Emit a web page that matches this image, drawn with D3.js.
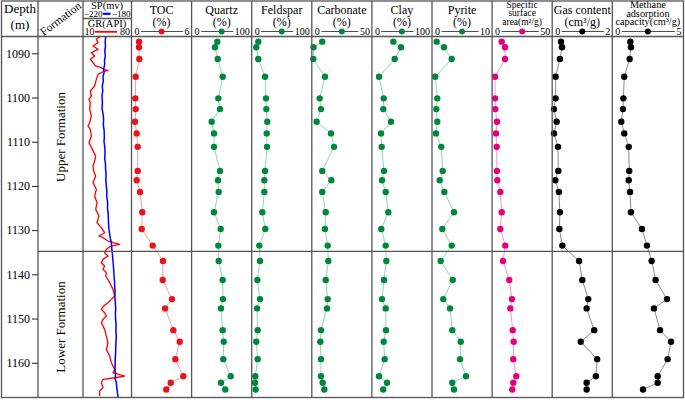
<!DOCTYPE html>
<html><head><meta charset="utf-8">
<script src="https://cdn.jsdelivr.net/npm/d3@7"></script>
<style>
body{margin:0;background:#fff}
svg{display:block}
text{font-family:"Liberation Serif","Times New Roman",serif;fill:#000}
</style>
</head><body><svg id="c" width="685" height="400"></svg>
<script>
// ---------------- DATA ----------------
const depthTicks = [1090, 1100, 1110, 1120, 1130, 1140, 1150, 1160];
const formationNames = ["Upper Formation", "Lower Formation"];
const formationTops = [1086.2, 1134.8];
const formationBottoms = [1134.8, 1167.86];

const sampleDepth = [1087.37, 1088.64, 1091.29, 1095.30, 1100.19, 1102.62, 1105.50, 1108.12, 1111.16, 1116.60,
  1118.71, 1121.35, 1125.95, 1129.74, 1133.50, 1136.99, 1141.29, 1145.60, 1147.70, 1152.62,
  1155.25, 1159.19, 1163.04, 1164.54, 1166.05];
const toc = [0.67,0.67,0.7,0.3,0.26,0.3,0.22,0.41,0.52,0.52,0.41,0.78,1.03,0.97,2.19,3.33,3.3,4.33,3.56,4.48,5.19,4.7,5.59,4.19,3.7];
const quartz = [44.8,40.6,45.6,54.8,46.7,49.8,34.4,38.7,38.7,49.8,46.1,47.4,38.7,51.1,46.7,47.4,54.8,55.4,51.7,54.8,56.7,55.9,69.6,51.7,59.6];
const feldspar = [9.4,5.7,9.4,21.9,23.7,24.3,26.1,25,25.6,21.9,20.6,20.6,16.9,22.4,11.3,12.6,7.6,12.6,7,8.3,5.7,8.3,3.9,3.3,4.6];
const carbonate = [8.3,0.2,0,10.8,5.9,7.1,3.1,16.4,19.2,8.3,16.7,8.3,11.5,10.8,13.3,13.9,11.5,13.3,12.7,7.1,6.5,7.1,7.1,8.7,10.2];
const clay = [36.9,51.1,39.4,10.4,19.1,18.3,32.6,14.1,15.4,19.6,15.9,22.8,27.6,14.6,22.8,23.9,19.6,15.9,22.8,23.3,19.1,20.9,10.4,25.2,18.3];
const pyrite = [0.59,1.94,3.37,0.33,0.7,0.52,0.7,0.46,1.44,1.7,1.15,2.0,3.8,1.63,3.37,1.33,3.56,1.81,3.06,3.48,5.04,4.91,6.02,3.48,3.8];
const ssa = [7.5,10.6,10.6,1.3,1.3,1.6,3.1,2.2,2.9,3.1,3.4,6.2,7.5,6.2,10.8,8.7,14.5,17.0,15.5,17.7,18.6,18.2,21.0,18.2,17.3];
const gas = [0.27,0.31,0.23,0.07,0.07,0.01,0.11,0.01,0.16,0.17,0.06,0.19,0.23,0.21,0.32,0.94,1.06,1.28,1.22,1.5,1.0,1.61,1.56,1.22,1.22];
const methane = [1.26,1.31,1.21,0.8,0.73,0.7,0.57,0.8,1.14,1.18,1.14,1.24,1.31,2.15,2.53,2.89,3.19,4.06,3.07,3.53,4.37,4.11,3.35,3.35,2.23];

const columnTitles = [["TOC","(%)"],["Quartz","(%)"],["Feldspar","(%)"],["Carbonate","(%)"],["Clay","(%)"],
  ["Pyrite","(%)"],["Specific","surface","area(m²/g)"],["Gas content","(cm³/g)"],["Methane","adsorption","capacity(cm³/g)"]];
const columnMax = [6, 100, 100, 50, 100, 10, 50, 2, 5];
const columnSeries = [toc, quartz, feldspar, carbonate, clay, pyrite, ssa, gas, methane];

const grDepth = [1086.09,1086.84,1087.59,1088.35,1089.10,1089.86,1090.61,1091.36,1092.12,1092.87,1093.25,1093.63,1093.85,1094.23,1094.76,1095.89,1097.40,1098.53,1099.66,1100.41,1101.17,1102.68,1104.19,1105.69,1106.45,1107.20,1108.71,1110.22,1111.73,1113.24,1114.37,1115.50,1116.63,1117.76,1119.27,1120.78,1122.29,1123.79,1125.30,1126.81,1128.32,1129.45,1130.58,1131.33,1131.71,1132.47,1133.22,1133.75,1134.35,1135.10,1135.86,1136.61,1137.37,1138.12,1138.88,1139.63,1140.38,1141.89,1143.40,1144.91,1145.66,1146.42,1147.17,1147.93,1148.68,1149.44,1150.19,1150.94,1151.70,1152.45,1153.96,1155.47,1156.98,1158.48,1159.99,1161.50,1162.25,1163.01,1163.39,1163.76,1164.52,1165.65,1166.40,1167.53];
const grValue = [34.9,28.8,31.3,23.7,31.3,21.2,26.2,19.6,23.7,27.8,36.4,39.9,46.5,37.9,31.3,28.8,26.2,19.6,21.2,17.6,19.6,18.6,21.2,18.6,16.1,19.6,21.2,17.6,22.7,27.8,26.2,23.7,24.7,27.8,23.7,28.8,26.2,29.8,27.8,32.8,29.8,36.4,41.4,32.8,38.9,46.5,64.3,49.1,44.0,41.4,46.5,38.9,36.4,41.4,38.9,44.0,43.0,49.1,54.1,56.7,51.6,46.5,39.9,36.4,41.4,44.0,38.9,36.4,38.9,41.4,44.0,46.5,44.0,49.1,51.6,56.7,54.1,71.9,56.7,38.9,36.4,38.9,33.8,33.8];

const spDepth = [1086.2,1087.5,1088.4,1089.5,1090.6,1091.6,1092.5,1093.6,1094.5,1095.2,1096.3,1097.4,1098.5,1099.6,1101.2,1102.5,1103.8,1104.9,1106.2,1107.5,1108.7,1110.0,1111.3,1112.5,1113.8,1115.0,1116.3,1117.5,1118.8,1120.0,1121.3,1122.5,1123.8,1125.0,1126.3,1127.6,1128.8,1129.8,1131.0,1132.0,1132.8,1134.0,1135.1,1136.4,1137.6,1138.9,1140.1,1141.4,1142.7,1143.9,1145.2,1146.4,1147.7,1148.9,1150.2,1151.5,1152.7,1154.0,1155.2,1156.5,1157.7,1159.0,1160.2,1161.5,1162.7,1163.5,1164.5,1165.7,1166.8,1167.8];
const spValue = [-201.2,-201.6,-201.3,-201.9,-201.5,-202.2,-202.0,-202.9,-202.6,-203.5,-203.2,-204.1,-203.7,-204.3,-204.0,-204.3,-203.4,-202.9,-203.2,-202.5,-202.3,-202.6,-201.9,-201.7,-202.0,-201.3,-201.2,-200.8,-201.0,-200.6,-200.1,-200.2,-199.4,-199.6,-198.9,-198.8,-198.6,-198.3,-197.6,-197.0,-196.2,-195.9,-195.4,-195.0,-194.6,-194.2,-194.0,-193.5,-193.3,-193.0,-193.1,-192.8,-192.4,-192.7,-192.5,-192.1,-192.3,-191.9,-192.2,-192.4,-192.5,-192.8,-192.9,-193.0,-192.6,-192.9,-191.9,-191.5,-190.9,-190.4];
const spRange = [-220, -180];
const grRange = [10, 80];

// ---------------- LAYOUT / STYLE ----------------
const svg = d3.select("#c");
const yTop = 36.5, yBottom = 397.5, xLeft = 1.5, xRight = 683.5;
const xDepth = 38, xForm = 83, xLog = 131.5;
const colEdges = [131.5,191.6,251.7,311.8,371.9,432,492.1,552.2,612.3,683.5];
const dotColors = ["#e8131b","#00873d","#00873d","#00873d","#00873d","#00873d","#e4007f","#000","#000"];
const lineColors = ["#f0a0a0","#93d3b8","#93d3b8","#93d3b8","#93d3b8","#93d3b8","#f09ac6","#8a8a8a","#8a8a8a"];
const frameColor = "#555";

const y = d3.scaleLinear().domain([formationTops[0], formationBottoms[1]]).range([yTop, yBottom]);

// log curves
const xSP = d3.scaleLinear().domain(spRange).range([84, 130]);
const xGR = d3.scaleLinear().domain(grRange).range([84, 130]);
svg.append("path").attr("d", d3.line().x((d,i)=>xGR(grValue[i])).y((d,i)=>y(grDepth[i]))(grDepth))
  .attr("fill","none").attr("stroke","#ff0000").attr("stroke-width",1.3).attr("stroke-linejoin","round");
svg.append("path").attr("d", d3.line().x((d,i)=>xSP(spValue[i])).y((d,i)=>y(spDepth[i]))(spDepth))
  .attr("fill","none").attr("stroke","#0000ff").attr("stroke-width",1.5).attr("stroke-linejoin","round");

// data columns
columnSeries.forEach((vals, c) => {
  const l = colEdges[c], r = colEdges[c+1];
  const x = d3.scaleLinear().domain([0, columnMax[c]]).range(c < 8 ? [l+1.5, l+55.5] : [l+1.5, l+67]);
  svg.append("path").attr("d", d3.line().x(d=>x(d)).y((d,i)=>y(sampleDepth[i]))(vals))
    .attr("fill","none").attr("stroke", lineColors[c]).attr("stroke-width", 1);
  svg.append("g").selectAll("circle").data(vals).join("circle")
    .attr("cx", d=>x(d)).attr("cy", (d,i)=>y(sampleDepth[i])).attr("r", 3.2).attr("fill", dotColors[c]);

  // header
  const cx = (l + r) / 2;
  const t = columnTitles[c];
  let fs, base;
  if (t.length === 2) { fs = 12; base = [13.5, 26]; }
  else if (c === 6) { fs = 9.5; base = [8, 16, 24.5]; }
  else { fs = 10.3; base = [8.3, 16.5, 24.8]; }
  t.forEach((s, k) => svg.append("text").attr("x", cx).attr("y", base[k]).attr("text-anchor","middle")
    .attr("font-size", fs).text(s));
  const z = svg.append("text").attr("x", l+3).attr("y", 35).attr("font-size", 10).text("0");
  const m = svg.append("text").attr("x", r-2).attr("y", 35).attr("font-size", 10).attr("text-anchor","end").text(String(columnMax[c]));
  const zw = z.node().getComputedTextLength(), mw = m.node().getComputedTextLength();
  svg.append("line").attr("x1", l+3+zw+1.5).attr("x2", r-2-mw-1.5).attr("y1", 31.5).attr("y2", 31.5)
    .attr("stroke","#222").attr("stroke-width",0.8);
  svg.append("circle").attr("cx", cx).attr("cy", 31.5).attr("r", 3).attr("fill", dotColors[c]);
});

// frame lines
const g = svg.append("g").attr("stroke", frameColor).attr("stroke-width", 1.3).attr("fill","none");
g.append("rect").attr("x", xLeft).attr("y", 1).attr("width", xRight-xLeft).attr("height", yBottom-1);
g.append("line").attr("x1", xLeft).attr("x2", xRight).attr("y1", yTop).attr("y2", yTop);
[xDepth, xForm, ...colEdges.slice(0, -1)].forEach(xx =>
  g.append("line").attr("x1", xx).attr("x2", xx).attr("y1", 1).attr("y2", yBottom));
g.append("line").attr("x1", xDepth).attr("x2", xRight).attr("y1", y(formationTops[1])).attr("y2", y(formationTops[1]));
g.append("line").attr("x1", xForm).attr("x2", xLog).attr("y1", 18.5).attr("y2", 18.5);

// depth axis
const ax = svg.append("g").attr("transform", `translate(${xDepth},0)`)
  .call(d3.axisLeft(y).tickValues(depthTicks).tickSize(6).tickPadding(2).tickFormat(d3.format("d")));
ax.select(".domain").remove();
ax.selectAll("text").attr("font-size", 12).attr("font-family", '"Liberation Serif","Times New Roman",serif');
ax.selectAll("line").attr("stroke","#222");

// depth / formation header
svg.append("text").attr("x", 20).attr("y", 13).attr("text-anchor","middle").attr("font-size",13).text("Depth");
svg.append("text").attr("x", 20).attr("y", 29).attr("text-anchor","middle").attr("font-size",13).text("(m)");
svg.append("text").attr("transform","translate(60.5,18.5) rotate(-37)").attr("text-anchor","middle")
  .attr("dy","0.35em").attr("font-size",11.5).text("Formation");

// formation labels
formationNames.forEach((n, i) => {
  const cy = i === 0 ? 137 : 327;
  svg.append("text").attr("transform", `translate(60.5,${cy}) rotate(-90)`).attr("text-anchor","middle")
    .attr("dy","0.35em").attr("font-size",13).text(n);
});

// log header
svg.append("text").attr("x", 107).attr("y", 9).attr("text-anchor","middle").attr("font-size",10.5).text("SP(mv)");
svg.append("text").attr("x", 84).attr("y", 16.8).attr("font-size",9).text("−220");
svg.append("text").attr("x", 130.5).attr("y", 16.8).attr("text-anchor","end").attr("font-size",9).text("−180");
svg.append("line").attr("x1",103).attr("x2",110.5).attr("y1",13.8).attr("y2",13.8).attr("stroke","#0000ff").attr("stroke-width",2.2);
svg.append("text").attr("x", 107).attr("y", 27).attr("text-anchor","middle").attr("font-size",10.5).text("GR(API)");
svg.append("text").attr("x", 84.5).attr("y", 35).attr("font-size",10).text("10");
svg.append("text").attr("x", 130).attr("y", 35).attr("text-anchor","end").attr("font-size",10).text("80");
svg.append("line").attr("x1",95).attr("x2",117).attr("y1",31.8).attr("y2",31.8).attr("stroke","#ff0000").attr("stroke-width",1.8);
</script>
</body></html>
